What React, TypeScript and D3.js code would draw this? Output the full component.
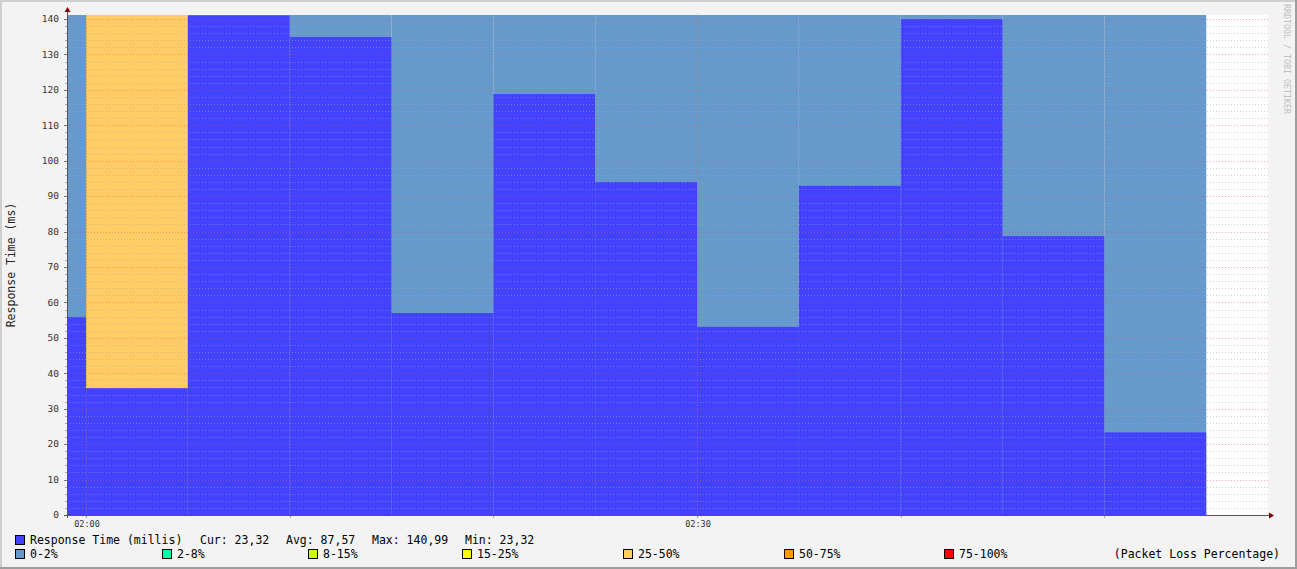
import React from "react";
import * as d3 from "d3";

// ---- data ----
const segmentStarts = ["01:55", "02:00", "02:05", "02:10", "02:15", "02:20", "02:25", "02:30", "02:35", "02:40", "02:45", "02:50"];
const responseTime = [55.9, 35.8, 140.99, 134.9, 57.0, 118.8, 94.0, 53.1, 92.9, 140.0, 78.7, 23.32];
const lossBand = ["0-2%", "25-50%", "0-2%", "0-2%", "0-2%", "0-2%", "0-2%", "0-2%", "0-2%", "0-2%", "0-2%", "0-2%"];
const lossLegend = ["0-2%", "2-8%", "8-15%", "15-25%", "25-50%", "50-75%", "75-100%"];
const lossColors = ["#6699CC", "#00FFAA", "#CCFF00", "#FFFF00", "#FFCC66", "#FF9900", "#FF0000"];
const yTicks = [0, 10, 20, 30, 40, 50, 60, 70, 80, 90, 100, 110, 120, 130, 140];
const xLabels = ["02:00", "02:30"];
const xMinorGrid = ["02:00", "02:10", "02:20", "02:30", "02:40", "02:50"];
const statLabels = ["Cur: 23,32", "Avg: 87,57", "Max: 140,99", "Min: 23,32"];
const seriesName = "Response Time (millis)";
const yTitle = "Response Time (ms)";
const stepMinutes = 5;

const W = 1297, H = 569;
const L = 67, R = 1268, T = 15, B = 515;
const MONO = "'DejaVu Sans Mono', monospace";

const parse = d3.timeParse("%H:%M:%S");
const t = (s: string) => parse(s.length === 5 ? s + ":00" : s)!;

export default function App() {
  const x = d3.scaleTime().domain([t("01:59:04"), t("02:58:02")]).range([L, R]);
  const y = d3.scaleLinear().domain([0, 141.13]).range([B, T]);
  const colorOf = (band: string) => lossColors[lossLegend.indexOf(band)];

  const segs = segmentStarts.map((s, i) => {
    const st = t(s);
    const en = d3.timeMinute.offset(st, stepMinutes);
    const x0 = Math.max(L, x(st));
    const x1 = Math.min(R, x(en));
    return { x0, x1, v: responseTime[i], band: lossBand[i] };
  });

  const minorY = d3.range(0, 141, 2).filter((v) => v % 10 !== 0);
  const legendXs = [15, 162, 308, 462, 623, 784, 944];
  const statXs = [200, 286, 372, 465];

  return (
    <svg width={W} height={H} style={{ position: "absolute", left: 0, top: 0, display: "block" }}>
      <rect x={0} y={0} width={W} height={H} fill="#F3F3F3" />
      {/* frame */}
      <rect x={0} y={0} width={W} height={2} fill="#CFCFCF" />
      <rect x={0} y={0} width={2} height={H} fill="#CFCFCF" />
      <rect x={W - 2} y={0} width={2} height={H} fill="#9E9E9E" />
      <rect x={0} y={H - 2} width={W} height={2} fill="#9E9E9E" />

      {/* canvas */}
      <rect x={L} y={T} width={R - L} height={B - T} fill="#FFFFFF" />

      {/* loss background */}
      {segs.map((s, i) => (
        <rect key={"l" + i} x={s.x0} y={T} width={s.x1 - s.x0} height={B - T} fill={colorOf(s.band)} />
      ))}
      {/* response time area */}
      {segs.map((s, i) => (
        <rect key={"r" + i} x={s.x0} y={y(s.v)} width={s.x1 - s.x0} height={B - y(s.v)} fill="#4242FF" />
      ))}

      {/* minor grid */}
      {minorY.map((v) => (
        <line key={"my" + v} x1={L} x2={R} y1={Math.round(y(v)) + 0.5} y2={Math.round(y(v)) + 0.5}
          stroke="#A8A8A8" strokeOpacity={0.5} strokeDasharray="1,2" />
      ))}
      {xMinorGrid.map((s) => (
        <line key={"mx" + s} x1={Math.round(x(t(s))) + 0.5} x2={Math.round(x(t(s))) + 0.5} y1={T} y2={B}
          stroke="#8C8C8C" strokeOpacity={0.45} strokeDasharray="1,2" />
      ))}
      {/* major grid */}
      {yTicks.filter((v) => v > 0).map((v) => (
        <line key={"My" + v} x1={L} x2={R} y1={Math.round(y(v)) + 0.5} y2={Math.round(y(v)) + 0.5}
          stroke="#E05050" strokeOpacity={0.45} strokeDasharray="1,2" />
      ))}
      {xLabels.map((s) => (
        <line key={"Mx" + s} x1={Math.round(x(t(s))) + 0.5} x2={Math.round(x(t(s))) + 0.5} y1={T - 2} y2={B}
          stroke="#E05050" strokeOpacity={0.35} strokeDasharray="1,2" />
      ))}

      {/* y ticks */}
      {yTicks.map((v) => (
        <line key={"yt" + v} x1={L - 3} x2={L} y1={Math.round(y(v)) + 0.5} y2={Math.round(y(v)) + 0.5} stroke="#777" />
      ))}
      {minorY.map((v) => (
        <line key={"ymt" + v} x1={L - 2} x2={L} y1={Math.round(y(v)) + 0.5} y2={Math.round(y(v)) + 0.5} stroke="#AAA" />
      ))}
      {xMinorGrid.map((s) => (
        <line key={"xt" + s} x1={Math.round(x(t(s))) + 0.5} x2={Math.round(x(t(s))) + 0.5} y1={B} y2={B + 3} stroke="#AAA" />
      ))}

      {/* axes */}
      <line x1={L + 0.5} x2={L + 0.5} y1={B + 3} y2={11} stroke="#555" />
      <line x1={L - 3} x2={R + 2} y1={B + 0.5} y2={B + 0.5} stroke="#555" />
      <path d={`M${L - 2.5},${12} L${L + 3.5},${12} L${L + 0.5},${7} Z`} fill="#800000" />
      <path d={`M${R + 1},${B - 2.5} L${R + 1},${B + 3.5} L${R + 6},${B + 0.5} Z`} fill="#800000" />

      {/* y labels */}
      {yTicks.map((v) => (
        <text key={"yl" + v} x={59} y={y(v)} dy="0.35em" textAnchor="end" fontFamily={MONO} fontSize={9.5} fill="#333">
          {v}
        </text>
      ))}
      {/* x labels */}
      {xLabels.map((s) => (
        <text key={"xl" + s} x={x(t(s)) + 1} y={527} textAnchor="middle" fontFamily={MONO} fontSize={8.5} fill="#333">
          {s}
        </text>
      ))}

      {/* y title */}
      <text transform={`translate(15,265) rotate(-90)`} textAnchor="middle" fontFamily={MONO} fontSize={11.5} fill="#222">
        {yTitle}
      </text>

      {/* watermark */}
      <text transform={`translate(1284,4) rotate(90)`} textAnchor="start" fontFamily={MONO} fontSize={8.3} fill="#C0C0C0">
        RRDTOOL / TOBI OETIKER
      </text>

      {/* legend row 1 */}
      <rect x={15.5} y={535.5} width={9} height={9} fill="#4242FF" stroke="#000" />
      <text x={30} y={544} fontFamily={MONO} fontSize={11.5} fill="#000">{seriesName}</text>
      {statLabels.map((s, i) => (
        <text key={"st" + i} x={statXs[i]} y={544} fontFamily={MONO} fontSize={11.5} fill="#000">{s}</text>
      ))}

      {/* legend row 2 */}
      {lossLegend.map((lab, i) => (
        <g key={"lg" + i}>
          <rect x={legendXs[i] + 0.5} y={549.5} width={9} height={9} fill={lossColors[i]} stroke="#000" />
          <text x={legendXs[i] + 15} y={558} fontFamily={MONO} fontSize={11.5} fill="#000">{lab}</text>
        </g>
      ))}
      <text x={1280} y={558} textAnchor="end" fontFamily={MONO} fontSize={11.5} fill="#000">(Packet Loss Percentage)</text>
    </svg>
  );
}
